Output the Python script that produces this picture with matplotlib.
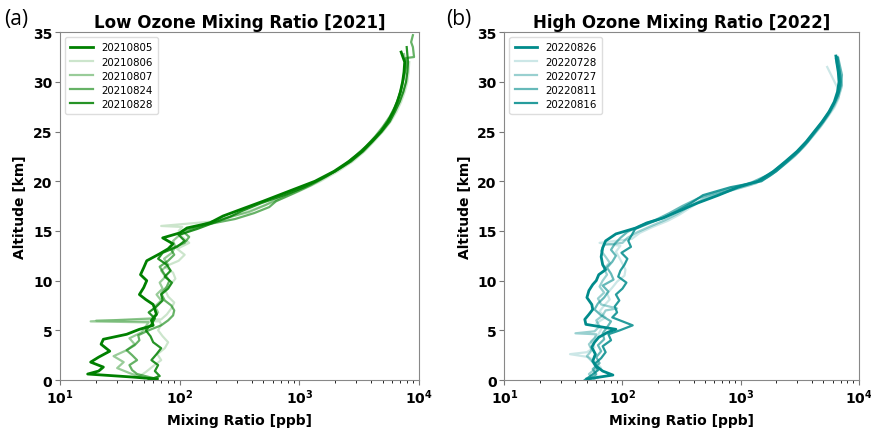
import matplotlib
matplotlib.use("Agg")
import matplotlib.pyplot as plt

# ---- 2021 low ozone profiles (altitude km, mixing ratio ppb)
alt_20210805 = [0.1,0.3,0.6,0.9,1.3,1.8,2.3,2.9,3.6,4.1,4.6,5.1,5.5,6.0,6.6,7.1,7.6,8.1,8.6,9.3,
                10.0,10.6,11.3,12.0,12.7,13.2,13.7,14.3,14.8,15.3,15.8,16.5,17.2,18.0,19.0,
                20.0,21.0,22.0,23.0,24.0,25.0,26.0,27.0,28.0,29.0,30.0,31.0,32.0,33.0]
ppb_20210805 = [65,40,17,21,23,18,21,26,22,23,36,46,60,58,64,62,60,52,46,50,
                53,47,50,53,68,80,88,72,100,115,178,230,330,500,820,
                1350,1950,2600,3300,4000,4800,5500,6100,6600,7000,7300,7500,7600,7100]

alt_20210806 = [0.3,0.8,1.4,2.0,2.6,3.2,3.8,4.4,5.0,5.6,5.9,6.0,6.1,6.6,7.2,7.8,8.4,9.0,9.6,10.2,
                10.8,11.4,12.0,12.6,13.2,13.8,14.4,15.0,15.4,15.5,16.0,16.6,17.2,18.0,19.0,
                20.0,21.0,22.0,23.0,24.0,25.0,26.0,27.0,28.0,29.0,30.0,31.0,32.0]
ppb_20210806 = [45,52,60,70,65,75,80,72,66,70,68,20,70,78,85,90,80,76,84,92,
                88,75,98,110,95,120,105,98,105,70,210,300,420,640,1000,
                1500,2100,2800,3500,4200,5000,5800,6500,7100,7600,8000,8200,8300]

alt_20210807 = [0.2,0.7,1.2,1.8,2.4,3.0,3.6,4.2,4.8,5.4,5.8,5.9,6.2,6.8,7.4,8.0,8.6,9.2,9.8,10.4,
                11.0,11.6,12.2,12.8,13.4,14.0,14.6,15.2,15.8,16.3,16.9,17.6,18.4,19.2,20.0,
                21.0,22.0,23.0,24.0,25.0,26.0,27.0,28.0,29.0,30.0,31.0,32.0,32.8]
ppb_20210807 = [50,38,30,34,28,36,42,38,48,52,55,18,58,66,62,70,64,72,68,76,
                70,80,74,86,92,88,100,130,170,240,380,520,700,1000,1400,
                2000,2700,3400,4100,4800,5500,6100,6600,7000,7300,7600,7700,7500]

alt_20210824 = [0.2,0.6,1.0,1.5,2.0,2.5,3.0,3.5,4.0,4.5,5.0,5.5,6.0,6.5,7.0,7.5,8.0,8.7,9.4,10.0,
                10.7,11.4,12.0,12.6,13.2,13.8,14.4,15.0,15.6,16.2,16.8,17.4,18.0,18.8,19.6,
                20.5,21.5,22.5,23.5,24.5,25.5,26.5,27.5,28.5,29.5,30.5,31.5,32.4,32.5,33.5,34.0,34.7]
ppb_20210824 = [60,44,40,38,44,40,36,42,46,45,55,70,80,88,90,85,75,70,78,82,
                74,68,80,90,84,110,120,105,160,290,420,560,640,900,1250,
                1700,2300,2900,3600,4300,5000,5700,6300,6800,7200,7500,7800,7800,9100,8900,8600,8900]

alt_20210828 = [0.0,0.4,0.9,1.5,2.0,2.6,3.2,3.8,4.4,5.0,5.6,6.2,6.8,7.4,8.0,8.6,9.2,9.8,10.4,11.0,
                11.6,12.2,12.8,13.4,14.0,14.6,15.2,15.8,16.4,17.0,17.8,18.6,19.4,20.2,21.0,
                22.0,23.0,24.0,25.0,26.0,27.0,28.0,29.0,30.0,31.0,32.0,33.5]
ppb_20210828 = [55,68,62,66,58,64,70,60,57,52,58,62,55,64,72,70,80,86,75,84,
                78,66,72,95,110,98,140,190,260,330,480,750,1100,1500,2000,
                2700,3400,4100,4900,5700,6300,6900,7400,7800,8000,8100,7900]

# ---- 2022 high ozone profiles
alt_20220826 = [0.1,0.5,0.9,1.4,1.9,2.6,3.3,3.8,4.3,4.8,5.1,5.4,5.6,6.1,6.6,7.1,7.6,8.3,9.0,9.6,
                10.0,10.6,11.1,11.6,12.4,13.3,14.0,14.7,15.3,15.8,16.3,17.0,17.8,18.6,19.4,
                20.0,21.0,22.0,23.0,24.0,25.0,26.0,27.0,28.0,29.0,30.0,31.0,32.0,32.6]
ppb_20220826 = [50,83,68,60,56,59,55,58,63,75,88,62,49,48,52,56,55,50,52,56,
                60,63,72,68,66,68,72,88,130,160,220,300,430,650,950,
                1400,1900,2400,3000,3600,4200,4900,5600,6200,6600,6800,6700,6500,6400]

alt_20220728 = [0.2,0.7,1.2,1.8,2.3,2.6,2.8,3.3,3.9,4.5,5.1,5.7,6.3,6.9,7.5,8.1,8.7,9.3,9.9,10.5,
                11.1,11.7,12.3,12.9,13.5,13.8,14.2,14.8,15.4,16.0,16.6,17.3,18.0,18.8,19.6,
                20.4,21.4,22.4,23.4,24.4,25.4,26.4,27.4,28.4,29.4,30.4,31.5]
ppb_20220728 = [62,58,66,60,52,36,50,58,54,62,66,60,72,64,70,78,74,82,90,104,
                106,100,94,88,96,64,120,140,180,240,300,370,460,700,1200,
                1700,2200,2800,3400,4000,4700,5400,6200,6800,6600,6000,5400]

alt_20220727 = [0.0,0.6,1.2,1.8,2.4,3.0,3.6,4.2,4.6,4.7,4.9,5.4,6.0,6.5,7.0,7.2,7.6,8.2,8.8,9.4,
                10.0,10.6,11.2,11.8,12.4,13.0,13.6,13.8,14.3,14.9,15.5,16.1,16.7,17.4,18.2,
                19.0,19.8,20.6,21.6,22.6,23.6,24.6,25.6,26.6,27.6,28.6,29.6,30.6,31.6,32.3]
ppb_20220727 = [58,52,60,56,50,55,52,58,60,40,58,64,60,68,72,90,66,62,70,64,
                68,74,70,78,72,66,70,100,110,135,175,230,290,360,480,
                780,1350,1800,2300,2900,3500,4100,4800,5500,6200,6800,7200,7000,6600,6400]

alt_20220811 = [0.1,0.6,1.1,1.7,2.3,2.9,3.5,4.1,4.7,5.3,5.9,6.5,7.1,7.7,8.3,8.9,9.5,10.1,10.7,11.3,
                11.9,12.5,13.1,13.7,14.3,14.9,15.5,16.1,16.8,17.5,18.3,19.1,19.9,20.7,21.7,
                22.7,23.7,24.7,25.7,26.7,27.7,28.7,29.7,30.7,31.7,32.4]
ppb_20220811 = [54,60,56,64,60,66,62,70,68,74,80,66,58,62,70,76,68,84,80,74,
                82,88,80,86,96,110,140,190,250,320,440,750,1250,1750,2250,
                2850,3450,4050,4700,5400,6100,6700,7100,7200,6900,6700]

alt_20220816 = [0.0,0.5,1.0,1.6,2.2,2.8,3.4,4.0,4.6,5.0,5.5,5.9,6.3,6.8,7.4,8.0,8.6,9.2,9.8,10.4,
                11.0,11.6,12.2,12.8,13.4,14.0,14.6,15.2,15.8,16.4,17.0,17.8,18.6,19.4,20.0,
                21.0,22.0,23.0,24.0,25.0,26.0,27.0,28.0,29.0,30.0,31.0,32.0,32.5]
ppb_20220816 = [48,55,62,58,66,72,68,80,76,95,122,100,82,90,86,94,88,100,108,92,
                96,104,110,98,118,112,120,128,170,230,290,380,480,820,1500,
                2000,2500,3100,3700,4300,5000,5700,6300,6800,7000,6900,6700,6600]

low_dates = ["20210805", "20210806", "20210807", "20210824", "20210828"]
high_dates = ["20220826", "20220728", "20220727", "20220811", "20220816"]
low_data = [(ppb_20210805, alt_20210805), (ppb_20210806, alt_20210806), (ppb_20210807, alt_20210807),
            (ppb_20210824, alt_20210824), (ppb_20210828, alt_20210828)]
high_data = [(ppb_20220826, alt_20220826), (ppb_20220728, alt_20220728), (ppb_20220727, alt_20220727),
             (ppb_20220811, alt_20220811), (ppb_20220816, alt_20220816)]

alphas = [1.0, 0.2, 0.4, 0.6, 0.85]
widths = [2.0, 1.6, 1.6, 1.6, 1.6]

fig = plt.figure(figsize=(8.71, 4.31), dpi=100)
ax1 = fig.add_axes([0.069, 0.116, 0.412, 0.807])
ax2 = fig.add_axes([0.579, 0.116, 0.407, 0.807])

def draw(ax, data, dates, color, title):
    for (x, y), d, a, w in zip(data, dates, alphas, widths):
        ax.plot(x, y, color=color, alpha=a, lw=w, label=d)
    ax.set_xscale("log")
    ax.set_xlim(10, 1e4)
    ax.set_ylim(0, 35)
    ax.set_title(title, fontsize=12, fontweight="bold", pad=4)
    ax.set_xlabel("Mixing Ratio [ppb]", fontsize=10, fontweight="bold", labelpad=5)
    ax.set_ylabel("Altitude [km]", fontsize=10, fontweight="bold")
    for lab in ax.get_xticklabels() + ax.get_yticklabels():
        lab.set_fontweight("bold")
    ax.tick_params(labelsize=10, color="#777777", pad=2)
    for s in ax.spines.values():
        s.set_color("#888888")
    ax.legend(loc="upper left", fontsize=7.4, handlelength=2.2, labelspacing=0.4,
              borderpad=0.5, framealpha=1, edgecolor="#dddddd")

draw(ax1, low_data, low_dates, "green", "Low Ozone Mixing Ratio [2021]")
draw(ax2, high_data, high_dates, "darkcyan", "High Ozone Mixing Ratio [2022]")

fig.text(0.005, 0.955, "(a)", fontsize=15, family="Open Sans", va="center")
fig.text(0.512, 0.955, "(b)", fontsize=15, family="Open Sans", va="center")

fig.savefig("out.png", dpi=100)
